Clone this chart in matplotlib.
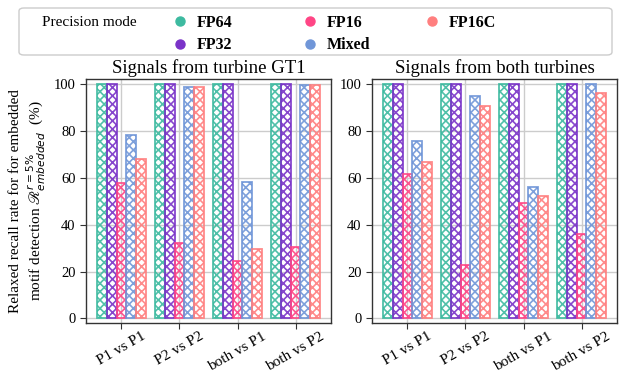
import matplotlib
matplotlib.use("Agg")
import matplotlib.pyplot as plt
from matplotlib.lines import Line2D
from matplotlib.patches import FancyBboxPatch
import numpy as np

plt.rcParams['font.family'] = ['Liberation Serif', 'DejaVu Serif']
plt.rcParams['mathtext.fontset'] = 'dejavusans'
plt.rcParams['hatch.linewidth'] = 1.2

categories = ["P1 vs P1", "P2 vs P2", "both vs P1", "both vs P2"]
modes = ["FP64", "FP32", "FP16", "Mixed", "FP16C"]
colors = ["#3dbaa0", "#7a33c8", "#ff4585", "#7096d8", "#ff7f7f"]
titles = ["Signals from turbine GT1", "Signals from both turbines"]

gt1_values = {
    "FP64": [100, 100, 100, 100],
    "FP32": [100, 100, 100, 100],
    "FP16": [57.7, 32.0, 24.5, 30.5],
    "Mixed": [78.2, 98.7, 58.4, 99.8],
    "FP16C": [67.9, 98.7, 29.5, 99.6],
}
both_values = {
    "FP64": [100, 100, 100, 100],
    "FP32": [100, 100, 100, 100],
    "FP16": [61.5, 22.8, 49.1, 35.9],
    "Mixed": [75.8, 95.0, 56.0, 100],
    "FP16C": [66.7, 90.7, 52.3, 96.5],
}
yticks = [0, 20, 40, 60, 80, 100]

W, H = 619, 374
fig = plt.figure(figsize=(W / 100, H / 100), dpi=100)
axL = fig.add_axes([86/W, 51/H, 245/W, 244/H])
axR = fig.add_axes([372/W, 51/H, 245/W, 244/H])

w = 0.168
x = np.arange(len(categories))
for ax, data, title in [(axL, gt1_values, titles[0]), (axR, both_values, titles[1])]:
    ax.set_axisbelow(True)
    ax.grid(True, color="#cccccc", linewidth=1.0)
    for i, m in enumerate(modes):
        ax.bar(x + (i - 2) * w, data[m], width=w, facecolor="none",
               edgecolor=colors[i], hatch="xxxx", linewidth=1.3, alpha=0.9)
    ax.set_xlim(-0.61, 3.61)
    ax.set_ylim(-2, 102.3)
    ax.set_yticks(yticks)
    ax.set_xticks(x)
    ax.set_xticklabels(categories, rotation=30, ha="center", fontsize=11)
    ax.tick_params(axis="y", labelsize=10.5, length=4, color="#333333")
    ax.tick_params(axis="x", length=4, color="#333333", pad=1)
    ax.set_title(title, fontsize=13.5, pad=4)
    for s in ax.spines.values():
        s.set_color("#333333")
        s.set_linewidth(1.0)

axL.set_ylabel("Relaxed recall rate for for embedded\nmotif detection $\\mathscr{R}^{r=5\\%}_{embedded}$  (%)",
               fontsize=11, labelpad=4)

# legend frame
frame = FancyBboxPatch((19/W, 1 - 55/H), 593/W, 47/H,
                       boxstyle="round,pad=0,rounding_size=0.008",
                       transform=fig.transFigure, facecolor="white",
                       edgecolor="#cccccc", linewidth=1.0)
fig.patches.append(frame)
fig.text(42/W, 1 - 22/H, "Precision mode", fontsize=11, va="center", ha="left")

col_x = [172, 302, 424]
col_modes = [["FP64", "FP32"], ["FP16", "Mixed"], ["FP16C"]]
for cx, cm in zip(col_x, col_modes):
    hs = [Line2D([], [], linestyle="none", marker="o", markersize=6.5,
                 color=colors[modes.index(m)], label=m) for m in cm]
    leg = fig.legend(handles=hs, loc="upper left",
                     bbox_to_anchor=(cx/W, 1 - 15/H),
                     frameon=False, fontsize=11.5, handlelength=1.0,
                     handletextpad=0.55, borderpad=0, borderaxespad=0,
                     labelspacing=0.4)
    for t in leg.get_texts():
        t.set_fontweight("bold")

fig.savefig("out.png", dpi=100)
